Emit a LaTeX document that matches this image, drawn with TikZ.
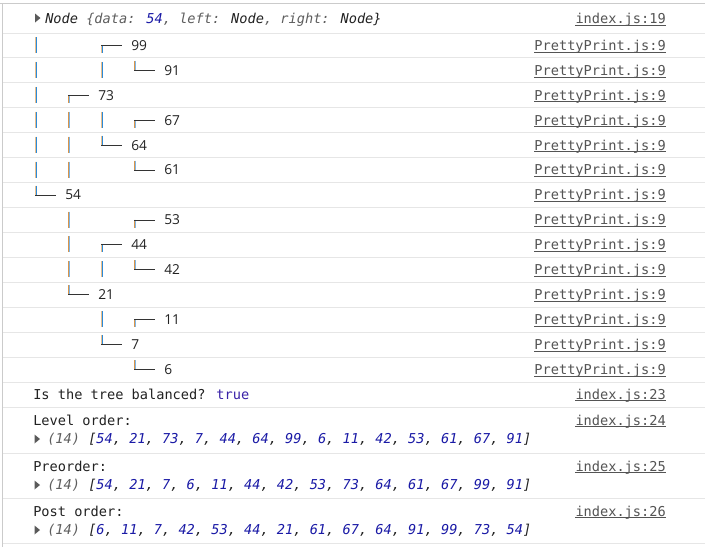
\documentclass[tikz,border=0pt]{standalone}
\usepackage{fontspec}
\newfontfamily\monof{DejaVu Sans Mono}
\newfontfamily\sansf{Open Sans}
\definecolor{sepc}{HTML}{E6E6E6}
\definecolor{borderc}{HTML}{CBCBCB}
\definecolor{txt}{HTML}{222222}
\definecolor{keyc}{HTML}{5E5E5E}
\definecolor{numc}{HTML}{1A1AA6}
\definecolor{boolc}{HTML}{3A22A8}
\definecolor{linkc}{HTML}{545454}
\definecolor{barb}{HTML}{2C8AD8}
\definecolor{barbl}{HTML}{7FB6E6}
\definecolor{baro}{HTML}{D9954A}
\definecolor{barol}{HTML}{E9BE8C}
\definecolor{hlc}{HTML}{333333}
\definecolor{trianglec}{HTML}{5A5A5A}
\tikzset{
  mono/.style={font=\monof\fontsize{10.22}{12}\selectfont, inner sep=0pt, anchor=base west, text=txt},
  link/.style={mono, anchor=base east, text=linkc},
  tnum/.style={font=\sansf\fontsize{10.3}{12}\selectfont, inner sep=0pt, anchor=base west, text=txt},
  sepline/.style={sepc, line width=0.75pt},
  hl/.style={hlc, line width=0.75pt},
  bbL/.style={barol, line width=0.75pt},
  bbR/.style={barb, line width=0.75pt},
  boL/.style={baro, line width=0.75pt},
  boR/.style={barbl, line width=0.75pt},
  uline/.style={linkc, line width=0.7pt},
  tri/.style={fill=trianglec, draw=none}
}
% two-pixel coloured vertical stroke: #1 x (integer), #2 y1, #3 y2, #4 b/o
\newcommand\vstroke[4]{%
  \draw[#4L] ({#1-0.5},#2) -- ({#1-0.5},#3);
  \draw[#4R] ({#1+0.5},#2) -- ({#1+0.5},#3);}
\newcommand\tbar[3]{%
  \pgfmathsetmacro\ty{33+24.93*#2}%
  \vstroke{#1}{{\ty+4}}{{\ty+20}}{#3}}
\newcommand\tup[3]{%
  \pgfmathsetmacro\ty{33+24.93*#2}%
  \vstroke{#1}{{\ty+12}}{{\ty+20}}{#3}
  \draw[hl] ({#1-1},{\ty+12.5}) -- ({#1+20},{\ty+12.5});}
\newcommand\tdown[3]{%
  \pgfmathsetmacro\ty{33+24.93*#2}%
  \vstroke{#1}{{\ty+3}}{{\ty+13}}{#3}
  \draw[hl] ({#1-1},{\ty+12.5}) -- ({#1+20},{\ty+12.5});}
\newcommand\tnumber[4]{% x, row, name, text
  \pgfmathsetmacro\ty{33+24.93*#2}%
  \node[tnum] (#3) at ({#1+29},{\ty+17.3}) {#4};
  \node[link] (L#3) at (666,{\ty+17.3}) {PrettyPrint.js:9};
  \draw[uline] ([yshift=-1.3pt]L#3.base west) -- ([yshift=-1.3pt]L#3.base east);}
\newcommand\ulink[1]{\draw[uline] ([yshift=-1.3pt]#1.base west) -- ([yshift=-1.3pt]#1.base east);}
\begin{document}
\begin{tikzpicture}[x=0.75pt,y=-0.75pt]
\useasboundingbox (0,0) rectangle (705,547);
\fill[white] (0,0) rectangle (705,547);
% borders
\draw[borderc, line width=0.75pt] (0,3.5) -- (705,3.5);
\draw[borderc, line width=0.75pt] (2.5,3.5) -- (2.5,547);
% separators
\foreach \k in {0,...,14} {\draw[sepline] (3,{33+24.93*\k}) -- (705,{33+24.93*\k});}
\foreach \yy in {407,453,498,543} {\draw[sepline] (3,\yy) -- (705,\yy);}
% first row: object preview
\fill[tri] (35,13.5) -- (40.5,18) -- (35,22.5) -- cycle;
\node[mono] (obj) at (45,23.5) {\itshape Node \textcolor{keyc}{\{data:} \textcolor{numc}{54}\textcolor{keyc}{, left:} Node\textcolor{keyc}{, right:} Node\}};
\node[link] (l19) at (666,23.5) {index.js:19};
\ulink{l19}
% tree
\def\cA{36}\def\cB{69}\def\cC{102}\def\cD{135}
% row 0: 99
\tbar{\cA}{0}{bb}\tup{\cC}{0}{bb}\tnumber{\cC}{0}{n99}{99}
% row 1: 91
\tbar{\cA}{1}{bb}\tbar{\cC}{1}{bb}\tdown{\cD}{1}{bo}\tnumber{\cD}{1}{n91}{91}
% row 2: 73
\tbar{\cA}{2}{bb}\tup{\cB}{2}{bo}\tnumber{\cB}{2}{n73}{73}
% row 3: 67
\tbar{\cA}{3}{bb}\tbar{\cB}{3}{bo}\tbar{\cC}{3}{bb}\tup{\cD}{3}{bo}\tnumber{\cD}{3}{n67}{67}
% row 4: 64
\tbar{\cA}{4}{bb}\tbar{\cB}{4}{bo}\tdown{\cC}{4}{bb}\tnumber{\cC}{4}{n64}{64}
% row 5: 61
\tbar{\cA}{5}{bb}\tbar{\cB}{5}{bo}\tdown{\cD}{5}{bo}\tnumber{\cD}{5}{n61}{61}
% row 6: 54
\tdown{\cA}{6}{bb}\tnumber{\cA}{6}{n54}{54}
% row 7: 53
\tbar{\cB}{7}{bo}\tup{\cD}{7}{bo}\tnumber{\cD}{7}{n53}{53}
% row 8: 44
\tbar{\cB}{8}{bo}\tup{\cC}{8}{bb}\tnumber{\cC}{8}{n44}{44}
% row 9: 42
\tbar{\cB}{9}{bo}\tbar{\cC}{9}{bb}\tdown{\cD}{9}{bo}\tnumber{\cD}{9}{n42}{42}
% row 10: 21
\tdown{\cB}{10}{bo}\tnumber{\cB}{10}{n21}{21}
% row 11: 11
\tbar{\cC}{11}{bb}\tup{\cD}{11}{bo}\tnumber{\cD}{11}{n11}{11}
% row 12: 7
\tdown{\cC}{12}{bb}\tnumber{\cC}{12}{n7}{7}
% row 13: 6
\tdown{\cD}{13}{bo}\tnumber{\cD}{13}{n6}{6}
% balanced
\node[mono] (bal) at (33,399) {Is the tree balanced? \textcolor{boolc}{true}};
\node[link] (l23) at (666,399) {index.js:23};
\ulink{l23}
% level order
\node[mono] (lvl) at (33,425) {Level order:};
\node[link] (l24) at (666,425) {index.js:24};
\ulink{l24}
\fill[tri] (34.5,434.5) -- (40,439) -- (34.5,443.5) -- cycle;
\node[mono] (lvla) at (47,443.5) {\itshape\textcolor{keyc}{(14)} [\textcolor{numc}{54}, \textcolor{numc}{21}, \textcolor{numc}{73}, \textcolor{numc}{7}, \textcolor{numc}{44}, \textcolor{numc}{64}, \textcolor{numc}{99}, \textcolor{numc}{6}, \textcolor{numc}{11}, \textcolor{numc}{42}, \textcolor{numc}{53}, \textcolor{numc}{61}, \textcolor{numc}{67}, \textcolor{numc}{91}]};
% preorder
\node[mono] (pre) at (33,471) {Preorder:};
\node[link] (l25) at (666,471) {index.js:25};
\ulink{l25}
\fill[tri] (34.5,480.5) -- (40,485) -- (34.5,489.5) -- cycle;
\node[mono] (prea) at (47,489.5) {\itshape\textcolor{keyc}{(14)} [\textcolor{numc}{54}, \textcolor{numc}{21}, \textcolor{numc}{7}, \textcolor{numc}{6}, \textcolor{numc}{11}, \textcolor{numc}{44}, \textcolor{numc}{42}, \textcolor{numc}{53}, \textcolor{numc}{73}, \textcolor{numc}{64}, \textcolor{numc}{61}, \textcolor{numc}{67}, \textcolor{numc}{99}, \textcolor{numc}{91}]};
% post order
\node[mono] (post) at (33,516) {Post order:};
\node[link] (l26) at (666,516) {index.js:26};
\ulink{l26}
\fill[tri] (34.5,525.5) -- (40,530) -- (34.5,534.5) -- cycle;
\node[mono] (posta) at (47,534.5) {\itshape\textcolor{keyc}{(14)} [\textcolor{numc}{6}, \textcolor{numc}{11}, \textcolor{numc}{7}, \textcolor{numc}{42}, \textcolor{numc}{53}, \textcolor{numc}{44}, \textcolor{numc}{21}, \textcolor{numc}{61}, \textcolor{numc}{67}, \textcolor{numc}{64}, \textcolor{numc}{91}, \textcolor{numc}{99}, \textcolor{numc}{73}, \textcolor{numc}{54}]};
\end{tikzpicture}
\end{document}
